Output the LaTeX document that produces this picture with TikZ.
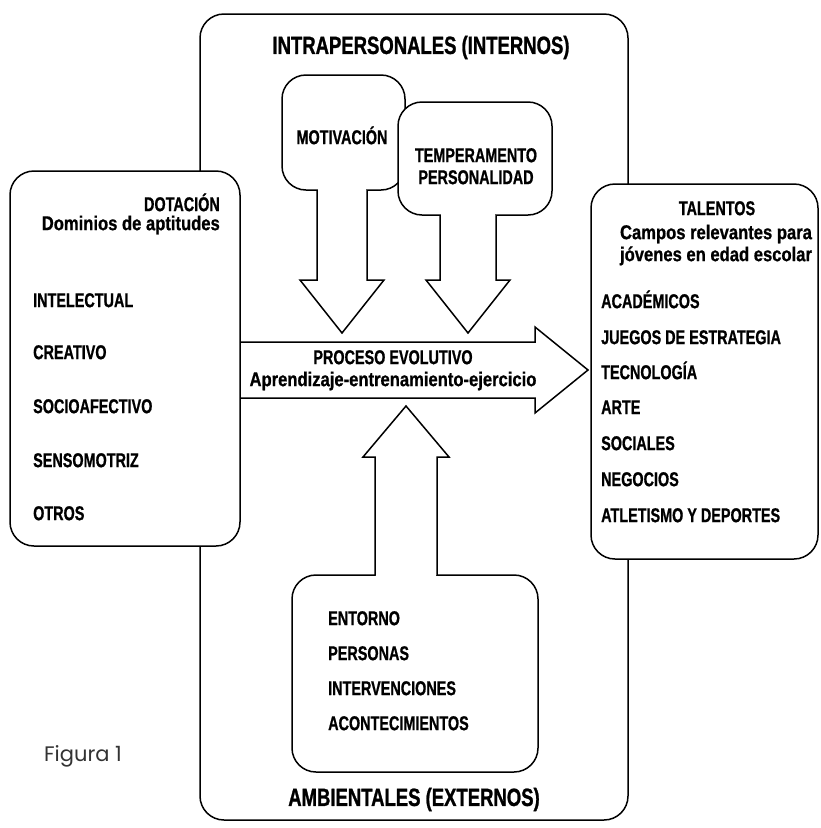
\documentclass[tikz,border=0pt]{standalone}
\usepackage{fontspec}
\newfontfamily\cu{Liberation Sans}[FakeStretch=0.72, BoldFeatures={FakeBold=0.8}]
\newfontfamily\cl{Liberation Sans}[FakeStretch=0.83, BoldFeatures={FakeBold=0.8}]
\newfontfamily\ct{Liberation Sans}[FakeStretch=0.74, BoldFeatures={FakeBold=1}]
\newfontfamily\figf{Poppins}
\begin{document}
\begin{tikzpicture}[x=1pt,y=-1pt,
  box/.style={draw, fill=white, rounded corners=24pt, inner sep=0pt, line width=1.5pt},
  arr/.style={draw, fill=white, line width=1.5pt, line join=miter},
  up/.style={font=\cu\bfseries\fontsize{20}{20}\selectfont, inner sep=0pt, text height=14.3pt, text depth=0pt},
  lo/.style={font=\cl\bfseries\fontsize{20}{20}\selectfont, inner sep=0pt, text height=14.3pt, text depth=0pt},
  ttl/.style={font=\ct\bfseries\fontsize{25}{25}\selectfont, inner sep=0pt, text height=17.9pt, text depth=0pt}]
\useasboundingbox[fill=white] (0,0) rectangle (820,828);

% outer box
\node[box, minimum width=428pt, minimum height=806pt] (outer) at (414,417) {};

% side boxes
\node[box, minimum width=230pt, minimum height=375pt] (left) at (125,358.5) {};
\node[box, minimum width=227pt, minimum height=375pt] (right) at (704.5,371.5) {};

% process arrow
\coordinate (pa) at (240,342);
\coordinate (pb) at (240,398);
\draw[line width=1.5pt, line join=miter] (pa) -- (535,342) -- (535,327) -- (588,370) -- (535,413) -- (535,398) -- (pb);

% motivation arrow
\node[box, minimum width=123pt, minimum height=115pt] (mot) at (343.5,132.5) {};
\filldraw[arr] (367,190) -- (367,280) -- (384,280) -- (342,333) -- (300,280) -- (317,280) -- (317,190);
\fill[white] (317.8,188.2) rectangle (366.2,191.8);

% temperamento arrow
\node[box, minimum width=154pt, minimum height=113pt] (tem) at (475,158.5) {};
\filldraw[arr] (496,215) -- (496,280) -- (510,280) -- (468,333) -- (426,280) -- (440,280) -- (440,215);
\fill[white] (440.8,213.2) rectangle (495.2,216.8);

% ambientales arrow
\node[box, minimum width=246pt, minimum height=197pt] (amb) at (415,673.5) {};
\filldraw[arr] (437,575) -- (437,457) -- (449,457) -- (406,406) -- (363,457) -- (375,457) -- (375,575);
\fill[white] (375.8,573.2) rectangle (436.2,576.8);

% titles
\node[ttl] (tintra) at (421,45) {INTRAPERSONALES (INTERNOS)};
\node[ttl] (tamb) at (414,797) {AMBIENTALES (EXTERNOS)};

% left box texts
\node[up, anchor=east] (dot) at (220,204) {DOTACIÓN};
\node[lo, anchor=east] (dom) at (220,223) {Dominios de aptitudes};
\node[up, anchor=west] (l1) at (33,300) {INTELECTUAL};
\node[up, anchor=west] (l2) at (33,352) {CREATIVO};
\node[up, anchor=west] (l3) at (33,406) {SOCIOAFECTIVO};
\node[up, anchor=west] (l4) at (33,460) {SENSOMOTRIZ};
\node[up, anchor=west] (l5) at (33,513) {OTROS};

% right box texts
\node[up] (tal) at (717,208) {TALENTOS};
\node[lo] (cam) at (716,232) {Campos relevantes para};
\node[lo] (jov) at (716,254) {jóvenes en edad escolar};
\node[up, anchor=west] (r1) at (601,301) {ACADÉMICOS};
\node[up, anchor=west] (r2) at (601,337) {JUEGOS DE ESTRATEGIA};
\node[up, anchor=west] (r3) at (601,372) {TECNOLOGÍA};
\node[up, anchor=west] (r4) at (601,407) {ARTE};
\node[up, anchor=west] (r5) at (601,443) {SOCIALES};
\node[up, anchor=west] (r6) at (601,479) {NEGOCIOS};
\node[up, anchor=west] (r7) at (601,515) {ATLETISMO Y DEPORTES};

% middle texts
\node[up] (tmot) at (342,137) {MOTIVACIÓN};
\node[up] (ttem1) at (476,155) {TEMPERAMENTO};
\node[up] (ttem2) at (476,177) {PERSONALIDAD};
\node[up] (proc) at (393,357) {PROCESO EVOLUTIVO};
\node[lo] (apr) at (393,379) {Aprendizaje-entrenamiento-ejercicio};

% bottom box texts
\node[up, anchor=west] (b1) at (328,618) {ENTORNO};
\node[up, anchor=west] (b2) at (328,653) {PERSONAS};
\node[up, anchor=west] (b3) at (328,688) {INTERVENCIONES};
\node[up, anchor=west] (b4) at (328,723) {ACONTECIMIENTOS};

% caption
\node[font=\figf\fontsize{21}{21}\selectfont, text=black!80, inner sep=0pt] (fig) at (83,756) {Figura 1};
\end{tikzpicture}
\end{document}
